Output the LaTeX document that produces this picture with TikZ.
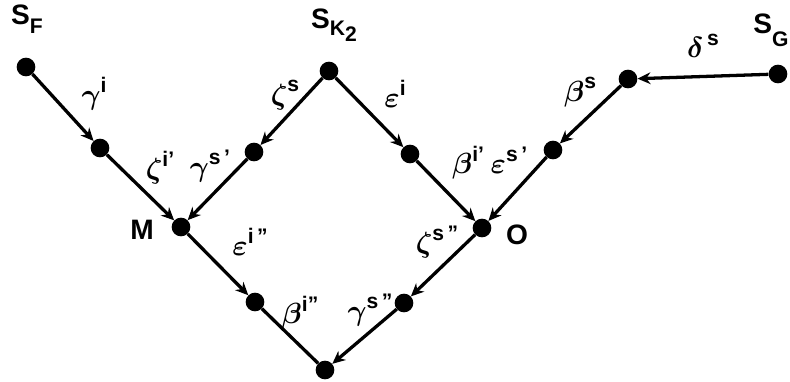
\documentclass[tikz,border=0pt]{standalone}
\usepackage{bm}
\usepackage{fontspec}
\setmainfont{Liberation Sans}
\usetikzlibrary{arrows.meta}

% greek letter with raised sans superscript
\newcommand{\glab}[2]{$\bm{#1}$\raisebox{0.42em}{\fontsize{18}{18}\selectfont\bfseries #2}}

\begin{document}
\begin{tikzpicture}[x=0.03cm, y=-0.03cm,
    vtx/.style={circle, fill, inner sep=0pt, minimum size=0.56cm},
    lbl/.style={inner sep=0pt, font=\fontsize{25}{27}\selectfont},
    tag/.style={inner sep=0pt, font=\fontsize{24}{26}\selectfont\bfseries},
    flow/.style={line width=2.8pt, -{Stealth[length=11pt, width=10pt]}},
    bareline/.style={line width=2.8pt}]
    \useasboundingbox (0,0) rectangle (790,381);

    % vertices
    \node[vtx] (sf) at (26,67) {};
    \node[vtx] (f1) at (100,148) {};
    \node[vtx] (m) at (181,227) {};
    \node[vtx] (m1) at (255,302) {};
    \node[vtx] (bot) at (325,370) {};
    \node[vtx] (sk) at (329,71) {};
    \node[vtx] (kl) at (254,152) {};
    \node[vtx] (kr) at (410,154) {};
    \node[vtx] (o) at (482,228) {};
    \node[vtx] (o1) at (404,303) {};
    \node[vtx] (sg) at (778,74) {};
    \node[vtx] (g1) at (628,79) {};
    \node[vtx] (g2) at (553,150) {};

    % names
    \node[tag] (nsf) at (27,19) {S\raisebox{-0.3em}{\fontsize{18}{18}\selectfont F}};
    \node[tag] (nsk) at (334,25) {S\raisebox{-0.25em}{\fontsize{18}{18}\selectfont K\raisebox{-0.3em}{2}}};
    \node[tag] (nsg) at (771,30) {S\raisebox{-0.45em}{\fontsize{18}{18}\selectfont G}};
    \node[tag] (nm) at (142,230) {M};
    \node[tag] (no) at (517,235) {O};

    % edges
    \draw[flow] (sf) -- (f1);
    \draw[flow] (f1) -- (m);
    \draw[flow] (sk) -- (kl);
    \draw[flow] (kl) -- (m);
    \draw[flow] (sk) -- (kr);
    \draw[flow] (kr) -- (o);
    \draw[flow] (sg) -- (g1);
    \draw[flow] (g1) -- (g2);
    \draw[flow] (g2) -- (o);
    \draw[flow] (m) -- (m1);
    \draw[bareline] (m1) -- (bot);
    \draw[flow] (o) -- (o1);
    \draw[flow] (o1) -- (bot);

    % edge labels
    \node[lbl] (l1) at (94,94) {\glab{\gamma}{i}};
    \node[lbl] (l2) at (160,168) {\glab{\zeta}{i\symbol{"27}}};
    \node[lbl] (l3) at (210,166) {\glab{\gamma}{s\,\symbol{"27}}};
    \node[lbl] (l4) at (285,95) {\glab{\zeta}{s}};
    \node[lbl] (l5) at (395,94) {\glab{\varepsilon}{i}};
    \node[lbl] (l6) at (468,163) {\glab{\beta}{i\symbol{"27}}};
    \node[lbl] (l7) at (509,160) {\glab{\varepsilon}{s\,\symbol{"27}}};
    \node[lbl] (l8) at (580,92) {\glab{\beta}{s}};
    \node[lbl] (l9) at (703,46) {\glab{\delta}{\,s}};
    \node[lbl] (l10) at (250,242) {\glab{\varepsilon}{i\,\symbol{"22}}};
    \node[lbl] (l11) at (300,313) {\glab{\beta}{i\symbol{"22}}};
    \node[lbl] (l12) at (437,242) {\glab{\zeta}{s\,\symbol{"22}}};
    \node[lbl] (l13) at (370,310) {\glab{\gamma}{s\,\symbol{"22}}};
\end{tikzpicture}
\end{document}
